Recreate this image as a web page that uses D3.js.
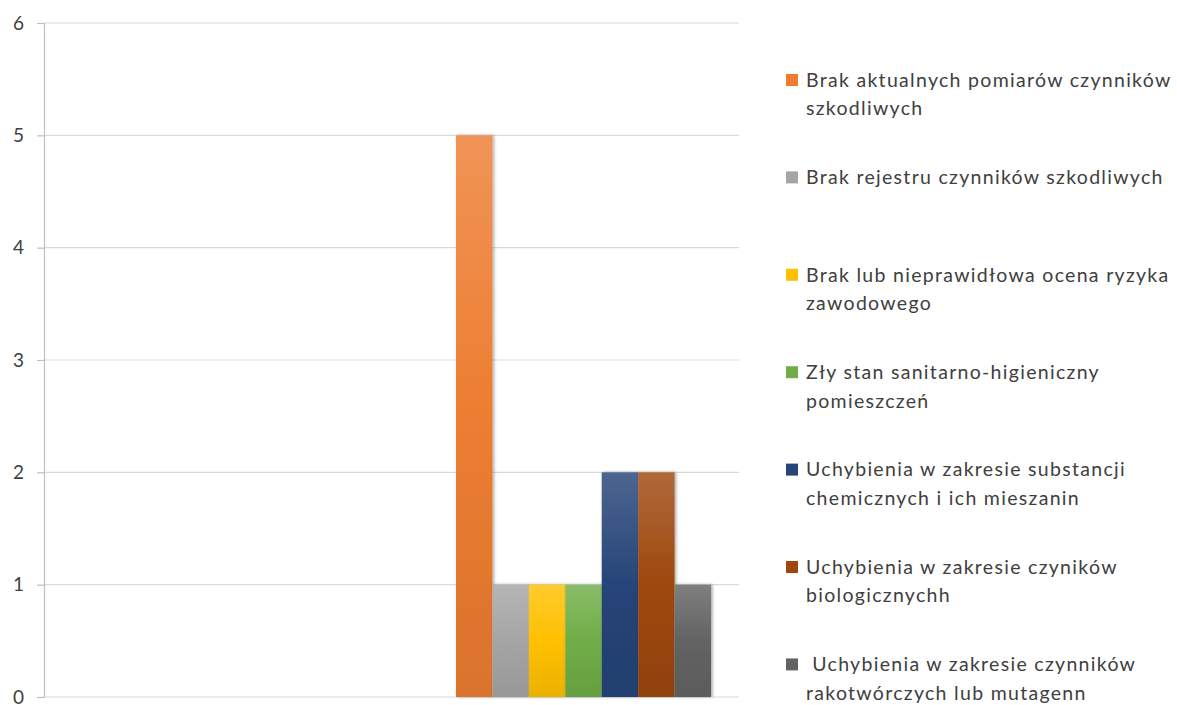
<!DOCTYPE html>
<html>
<head>
<meta charset="utf-8">
<script src="https://cdn.jsdelivr.net/npm/d3@7"></script>
<style>
  html, body { margin: 0; padding: 0; background: #fff; }
  svg { display: block; }
  text { font-family: Lato, "Open Sans", sans-serif; fill: #404040; white-space: pre; }
</style>
</head>
<body>
<svg id="chart" width="1177" height="705"></svg>
<script>
// ---- data ----
const seriesNames = [
  "Brak aktualnych pomiarów czynników szkodliwych",
  "Brak rejestru czynników szkodliwych",
  "Brak lub nieprawidłowa ocena ryzyka zawodowego",
  "Zły stan sanitarno-higieniczny pomieszczeń",
  "Uchybienia w zakresie substancji chemicznych i ich mieszanin",
  "Uchybienia w zakresie czyników biologicznychh",
  " Uchybienia w zakresie czynników rakotwórczych lub mutagenn"
];
const legendLines = [
  ["Brak aktualnych pomiarów czynników", "szkodliwych"],
  ["Brak rejestru czynników szkodliwych"],
  ["Brak lub nieprawidłowa ocena ryzyka", "zawodowego"],
  ["Zły stan sanitarno-higieniczny", "pomieszczeń"],
  ["Uchybienia w zakresie substancji", "chemicznych i ich mieszanin"],
  ["Uchybienia w zakresie czyników", "biologicznychh"],
  [" Uchybienia w zakresie czynników", "rakotwórczych lub mutagenn"]
];
const seriesValues = [5, 1, 1, 1, 2, 2, 1];
const yTicks = [0, 1, 2, 3, 4, 5, 6];
const seriesColors = ["#ED7D31", "#A5A5A5", "#FFC000", "#70AD47", "#264478", "#9E480E", "#636363"];

// ---- layout ----
const svg = d3.select("#chart");
const plot = { left: 44, right: 739, top: 23, bottom: 697 };

const y = d3.scaleLinear().domain([0, 6]).range([plot.bottom, plot.top]);
const x = d3.scaleBand().domain(seriesNames).range([456, 711]).paddingInner(0).paddingOuter(0);

// gradients
const defs = svg.append("defs");
seriesColors.forEach((c, i) => {
  const g = defs.append("linearGradient").attr("id", "grad" + i)
    .attr("x1", 0).attr("y1", 0).attr("x2", 0).attr("y2", 1);
  g.append("stop").attr("offset", "0%").attr("stop-color", d3.interpolateRgb(c, "#ffffff")(0.18));
  g.append("stop").attr("offset", "50%").attr("stop-color", c);
  g.append("stop").attr("offset", "100%").attr("stop-color", d3.interpolateRgb(c, "#000000")(0.08));
});
const f = defs.append("filter").attr("id", "shadow").attr("x", "-30%").attr("y", "-10%").attr("width", "160%").attr("height", "120%");
f.append("feDropShadow").attr("dx", 1.5).attr("dy", 0).attr("stdDeviation", 1.8).attr("flood-color", "#000").attr("flood-opacity", 0.35);

// gridlines
svg.append("g").selectAll("line").data(yTicks).join("line")
  .attr("x1", plot.left).attr("x2", plot.right)
  .attr("y1", d => y(d)).attr("y2", d => y(d))
  .attr("stroke", "#d9d9d9").attr("stroke-width", 1.2);

// y axis
const yAxis = d3.axisLeft(y).tickValues(yTicks).tickSize(7).tickPadding(13).tickFormat(d3.format("d"));
const ya = svg.append("g").attr("transform", `translate(${plot.left},0)`).call(yAxis);
ya.select(".domain").attr("stroke", "#bfbfbf").attr("stroke-width", 1.2);
ya.selectAll(".tick line").attr("stroke", "#bfbfbf").attr("stroke-width", 1.2);
ya.selectAll(".tick text").style("font-size", "19px").attr("fill", "#404040")
  .style("font-family", "Lato, 'Open Sans', sans-serif");

// bars
svg.append("g").selectAll("rect").data(seriesNames).join("rect")
  .attr("x", d => x(d))
  .attr("width", x.bandwidth())
  .attr("y", (d, i) => y(seriesValues[i]))
  .attr("height", (d, i) => y(0) - y(seriesValues[i]))
  .attr("fill", (d, i) => `url(#grad${i})`)
  .attr("filter", "url(#shadow)");

// legend
const legendTop = 80, legendStep = 97.4, lineH = 28.5;
const lg = svg.append("g");
legendLines.forEach((lines, i) => {
  const cy = legendTop + i * legendStep;
  lg.append("rect").attr("x", 786).attr("y", cy - 6).attr("width", 12).attr("height", 12)
    .attr("fill", seriesColors[i]);
  lines.forEach((t, j) => {
    lg.append("text").attr("x", 806).attr("y", cy + j * lineH)
      .attr("dy", "0.35em").style("font-size", "19.5px").style("letter-spacing", "1.3px").text(t);
  });
});
</script>
</body>
</html>
